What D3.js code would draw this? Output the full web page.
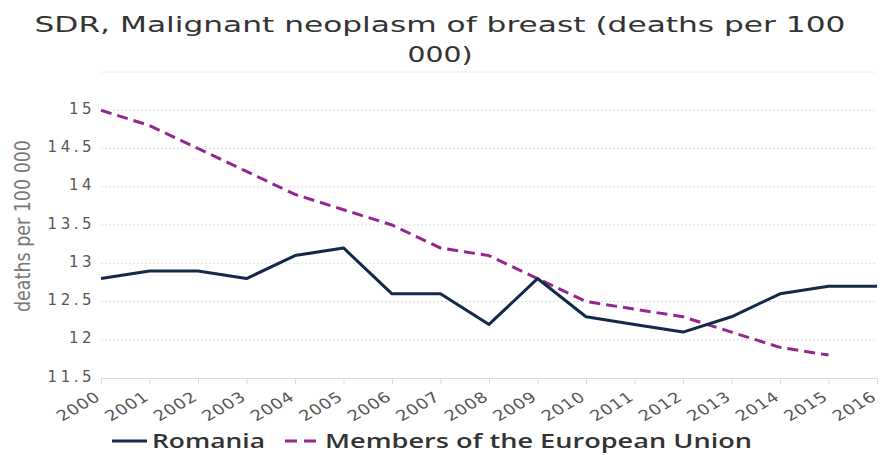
<!DOCTYPE html>
<html><head><meta charset="utf-8">
<script src="https://cdn.jsdelivr.net/npm/d3@7"></script>
<style>body{margin:0;background:#fff}svg{display:block}</style>
</head><body>
<svg id="c" width="880" height="455"></svg>
<script>
const years = [2000,2001,2002,2003,2004,2005,2006,2007,2008,2009,2010,2011,2012,2013,2014,2015,2016];
const romania = [12.8,12.9,12.9,12.8,13.1,13.2,12.6,12.6,12.2,12.8,12.3,12.2,12.1,12.3,12.6,12.7,12.7];
const euYears = [2000,2001,2002,2003,2004,2005,2006,2007,2008,2009,2010,2011,2012,2013,2014,2015];
const eu = [15.0,14.8,14.5,14.2,13.9,13.7,13.5,13.2,13.1,12.8,12.5,12.4,12.3,12.1,11.9,11.8];
const yTicks = [11.5,12,12.5,13,13.5,14,14.5,15,15.5];
const yTickLabels = ["11.5","12","12.5","13","13.5","14","14.5","15",""];
const seriesNames = ["Romania","Members of the European Union"];
const titleLines = ["SDR, Malignant neoplasm of breast (deaths per 100","000)"];
const yLabel = "deaths per 100 000";
const colors = ["#13294b","#93278f"];

const svg = d3.select("#c");
const x = d3.scaleLinear().domain([2000,2016]).range([101,877]);
const y = d3.scaleLinear().domain([11.5,15.5]).range([378,72]);

// title
svg.append("text").attr("x",440).attr("y",32).attr("text-anchor","middle")
  .attr("font-family","DejaVu Sans").attr("font-size",21).attr("fill","#333")
  .attr("textLength",811).attr("lengthAdjust","spacingAndGlyphs")
  .text(titleLines[0]);
svg.append("text").attr("x",440).attr("y",62).attr("text-anchor","middle")
  .attr("font-family","DejaVu Sans").attr("font-size",21).attr("fill","#333")
  .attr("textLength",65).attr("lengthAdjust","spacingAndGlyphs")
  .text(titleLines[1]);

// gridlines
svg.append("g").selectAll("line").data(yTicks.slice(1)).join("line")
  .attr("x1",101).attr("x2",877).attr("y1",d=>y(d)).attr("y2",d=>y(d))
  .attr("stroke","#dcdcdc").attr("stroke-width",1).attr("stroke-dasharray","2,2");

// y axis labels
const yAxis = d3.axisLeft(y).tickValues(yTicks).tickFormat((d,i)=>yTickLabels[i]).tickSize(0).tickPadding(6);
const gy = svg.append("g").attr("transform","translate(101,0)").call(yAxis);
gy.select(".domain").remove();
gy.selectAll("text").attr("font-family","DejaVu Sans").attr("font-size",15)
  .attr("fill","#555").attr("letter-spacing","3.5px").attr("dy","0.2em");

// x axis
const xAxis = d3.axisBottom(x).tickValues(years).tickFormat(d3.format("d")).tickSize(6).tickPadding(0);
const gx = svg.append("g").attr("transform","translate(0,378)").call(xAxis);
gx.select(".domain").attr("stroke","#dcdcdc");
gx.selectAll(".tick line").attr("stroke","#dcdcdc");
gx.selectAll("text").attr("font-family","DejaVu Sans").attr("font-size",14.5)
  .attr("fill","#555").attr("letter-spacing","0.5px")
  .attr("text-anchor","end").attr("y",0).attr("dy",0)
  .attr("transform","translate(0,21) scale(1.25,1) rotate(-36)");

// y label
svg.append("text").attr("transform","translate(30,226) rotate(-90)").attr("text-anchor","middle")
  .attr("font-family","DejaVu Sans").attr("font-size",22).attr("fill","#777")
  .attr("textLength",172).attr("lengthAdjust","spacingAndGlyphs")
  .text(yLabel);

// lines
const line = d3.line().x(d=>x(d[0])).y(d=>y(d[1]));
svg.append("path").datum(euYears.map((yr,i)=>[yr,eu[i]])).attr("d",line)
  .attr("fill","none").attr("stroke",colors[1]).attr("stroke-width",3).attr("stroke-dasharray","11,6");
svg.append("path").datum(years.map((yr,i)=>[yr,romania[i]])).attr("d",line)
  .attr("fill","none").attr("stroke",colors[0]).attr("stroke-width",3).attr("stroke-linejoin","round");

// legend
const lg = svg.append("g");
lg.append("line").attr("x1",112).attr("x2",147).attr("y1",441).attr("y2",441).attr("stroke",colors[0]).attr("stroke-width",3);
lg.append("text").attr("x",152).attr("y",448).attr("font-family","Open Sans").attr("font-size",19)
  .attr("font-weight",600).attr("fill","#333").attr("textLength",113).attr("lengthAdjust","spacingAndGlyphs").text(seriesNames[0]);
lg.append("line").attr("x1",285).attr("x2",316).attr("y1",441).attr("y2",441).attr("stroke",colors[1]).attr("stroke-width",3).attr("stroke-dasharray","12,7");
lg.append("text").attr("x",325).attr("y",448).attr("font-family","Open Sans").attr("font-size",19)
  .attr("font-weight",600).attr("fill","#333").attr("textLength",427).attr("lengthAdjust","spacingAndGlyphs").text(seriesNames[1]);
</script>
</body></html>
